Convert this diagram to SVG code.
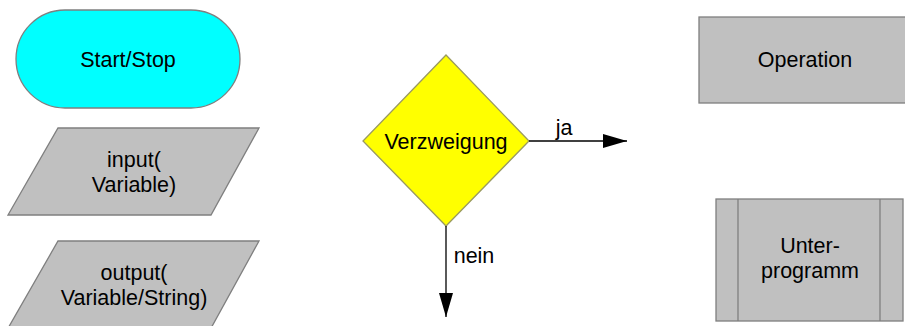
<svg xmlns="http://www.w3.org/2000/svg" width="905" height="326" viewBox="0 0 905 326">
<style>
text{font-family:"Liberation Sans",Arial,sans-serif;font-size:21.5px;fill:#000;text-anchor:middle}
.g{fill:#c0c0c0;stroke:#7f7f7f;stroke-width:1.3}
.ln{stroke:#000;stroke-width:1.3;fill:none}
</style>
<defs>
<marker id="ah" markerWidth="24" markerHeight="14" refX="24" refY="7" orient="auto" markerUnits="userSpaceOnUse">
<path d="M0,0 L24,7 L0,14 Z" fill="#000"/>
</marker>
</defs>
<rect width="905" height="326" fill="#fff"/>
<g id="startstop">
<rect x="16" y="10" width="224" height="98" rx="49" ry="49" fill="#00ffff" stroke="#7f7f7f" stroke-width="1.3"/>
<text x="128" y="67">Start/Stop</text>
</g>
<g id="input">
<polygon class="g" points="58,128 259,128 211,215 8,215"/>
<text x="134" y="167">input(</text>
<text x="134" y="192">Variable)</text>
</g>
<g id="output">
<polygon class="g" points="58,241 259,241 210,330 7,330"/>
<text x="134" y="280">output(</text>
<text x="134" y="305">Variable/String)</text>
</g>
<g id="verzweigung">
<polygon points="446,55 529,141 446,226 363,141" fill="#ffff00" stroke="#9a9a60" stroke-width="1.3"/>
<text x="446" y="149">Verzweigung</text>
</g>
<g id="operation">
<rect class="g" x="699" y="17" width="210" height="86"/>
<text x="805" y="67">Operation</text>
</g>
<g id="unterprogramm">
<rect class="g" x="716" y="199" width="187" height="122"/>
<line class="g" x1="738" y1="199" x2="738" y2="321"/>
<line class="g" x1="880" y1="199" x2="880" y2="321"/>
<text x="810" y="253">Unter-</text>
<text x="810" y="278">programm</text>
</g>
<g id="connectors">
<line class="ln" x1="529" y1="141" x2="627" y2="141" marker-end="url(#ah)"/>
<text x="564" y="135">ja</text>
<line class="ln" x1="446" y1="226" x2="446" y2="317" marker-end="url(#ah)"/>
<text x="474" y="263">nein</text>
</g>
</svg>
